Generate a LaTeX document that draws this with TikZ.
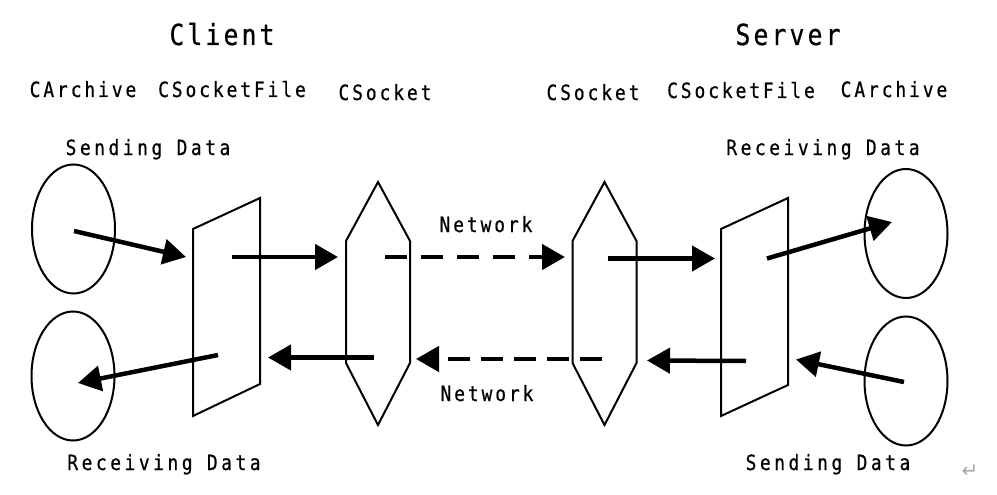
\documentclass[tikz,border=0pt]{standalone}
\usepackage{fontspec}
\usetikzlibrary{arrows.meta,shapes.geometric}
\newfontfamily\labfont[FakeStretch=0.85,LetterSpace=14,FakeBold=0.6]{DejaVu Sans Mono}
\newfontfamily\datafont[FakeStretch=0.85,LetterSpace=17,FakeBold=0.6]{DejaVu Sans Mono}
\newfontfamily\titlefont[FakeStretch=0.85,LetterSpace=11,FakeBold=0.6]{DejaVu Sans Mono}
\newfontfamily\symfont{DejaVu Sans}
\tikzset{
  lbl/.style={font={\labfont\fontsize{21}{22}\selectfont}, anchor=base, inner sep=0pt},
  datalbl/.style={font={\datafont\fontsize{21}{22}\selectfont}, anchor=base, inner sep=0pt},
  ttl/.style={font={\titlefont\fontsize{29}{32}\selectfont}, anchor=base, inner sep=0pt},
  ell/.style={ellipse, draw, line width=2pt, minimum width=83pt, minimum height=129pt, inner sep=0pt},
  shp/.style={draw, line width=2pt, line join=miter},
  arr/.style={line width=4.5pt, -{Triangle[length=23pt,width=25pt]}},
  darrA/.style={arr, dash pattern=on 22pt off 14pt},
  darrB/.style={arr, dash pattern=on 22pt off 11pt}
}
\begin{document}
\begin{tikzpicture}[x=1pt,y=-1pt]
\useasboundingbox[fill=white] (0,0) rectangle (997,495);

% titles
\node[ttl] (client) at (222,45) {Client};
\node[ttl] (server) at (788,45) {Server};

% class labels
\node[lbl] (arcL) at (83,97) {CArchive};
\node[lbl] (sfL) at (232,97) {CSocketFile};
\node[lbl] (skL) at (385,100) {CSocket};
\node[lbl] (skR) at (593,100) {CSocket};
\node[lbl] (sfR) at (741,98) {CSocketFile};
\node[lbl] (arcR) at (894,97) {CArchive};

% data labels
\node[datalbl] (sendL) at (148,155) {Sending Data};
\node[datalbl] (recvR) at (823,155) {Receiving Data};
\node[datalbl] (recvL) at (164,470) {Receiving Data};
\node[datalbl] (sendR) at (828,470) {Sending Data};

% network labels
\node[lbl] (netA) at (486,232) {Network};
\node[lbl] (netB) at (487,401) {Network};

% return mark
\node[font={\symfont\fontsize{20}{20}\selectfont}, text=gray!70, inner sep=0pt] (ret) at (970,471) {↵};

% ellipses
\node[ell] (e1) at (73.5,229) {};
\node[ell] (e2) at (73,376) {};
\node[ell] (e3) at (906,233.5) {};
\node[ell] (e4) at (906,381) {};

% parallelograms (CSocketFile)
\draw[shp] (193,229) coordinate (pL1) -- (260,198) coordinate (pL2) -- (260,384) coordinate (pL3) -- (193,416) coordinate (pL4) -- cycle;
\draw[shp] (721,229) coordinate (pR1) -- (788,198) coordinate (pR2) -- (788,385) coordinate (pR3) -- (721,416) coordinate (pR4) -- cycle;

% hexagons (CSocket)
\draw[shp] (378,182) coordinate (hL1) -- (410,241) -- (410,363) -- (378,425) coordinate (hL2) -- (346,363) -- (346,241) -- cycle;
\draw[shp] (604.5,182) coordinate (hR1) -- (636.5,241) -- (636.5,363) -- (604.5,425) coordinate (hR2) -- (572.5,363) -- (572.5,241) -- cycle;

% arrow end points
\coordinate (a1s) at (74,231);   \coordinate (a1e) at (186,257);
\coordinate (a2s) at (232,257);  \coordinate (a2e) at (338,257);
\coordinate (a3s) at (385,257);  \coordinate (a3e) at (565,257);
\coordinate (a4s) at (608,258.5);\coordinate (a4e) at (715,258.5);
\coordinate (a5s) at (767,258.5);\coordinate (a5e) at (892,222);
\coordinate (a6s) at (904,382);  \coordinate (a6e) at (796,359.5);
\coordinate (a7s) at (746,361);  \coordinate (a7e) at (647,360.5);
\coordinate (a8s) at (601.5,359);\coordinate (a8e) at (416,359);
\coordinate (a9s) at (374,357.5);\coordinate (a9e) at (268,357.5);
\coordinate (a10s) at (218,355); \coordinate (a10e) at (78,383);

\draw[arr] (a1s) -- (a1e);
\draw[arr] (a2s) -- (a2e);
\draw[darrA] (a3s) -- (a3e);
\draw[arr] (a4s) -- (a4e);
\draw[arr] (a5s) -- (a5e);
\draw[arr] (a6s) -- (a6e);
\draw[arr] (a7s) -- (a7e);
\draw[darrB] (a8s) -- (a8e);
\draw[arr] (a9s) -- (a9e);
\draw[arr] (a10s) -- (a10e);
\end{tikzpicture}
\end{document}
